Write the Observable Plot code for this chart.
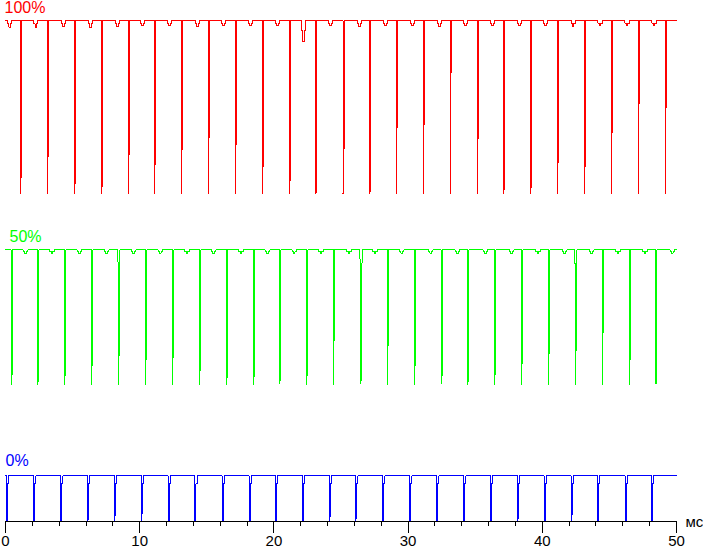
<!DOCTYPE html>
<html><head><meta charset="utf-8">
<script src="https://cdn.jsdelivr.net/npm/d3@7"></script>
<script src="https://cdn.jsdelivr.net/npm/@observablehq/plot@0.6"></script>
<style>html,body{margin:0;padding:0;background:#fff}#chart{width:703px;height:549px}</style>
</head><body><div id="chart"></div>
<script>
// Series (brightness levels) — labels, colours, top/bottom level in chart units
const seriesNames = ["100%", "50%", "0%"];
const seriesColors = ["#ff0000", "#00ff00", "#0000ff"];
const seriesHigh = [100, 54.2, 9.1];
const seriesLow = [65.4, 27.4, 0];

// 100% trace: dip times (ms), depth of the wide part (fraction of swing)
const redDipTimes = [1.14, 3.13, 5.14, 7.13, 9.14, 11.12, 13.13, 15.14, 17.15, 19.16, 21.15, 23.13, 25.15, 27.16, 29.14, 31.15, 33.13, 35.15, 37.13, 39.11, 41.12, 43.14, 45.15, 47.16, 49.17];
const redDipDepths = [0.58, 0.58, 0.89, 0.95, 0.74, 0.42, 0.17, 0.05, 0.23, 0.59, 0.89, 0.95, 0.74, 0.41, 0.17, 0.17, 0.23, 0.60, 0.89, 0.95, 0.74, 0.73, 0.41, 0.17, 0.24];
const redRipples = [[0.15, 0.04], [2.09, 0.04], [4.17, 0.035], [6.18, 0.04], [8.19, 0.035], [10.05, 0.03], [12.06, 0.03], [14.15, 0.035], [16.09, 0.03], [18.09, 0.03], [20.10, 0.03], [22.04, 0.12], [24.05, 0.03], [26.21, 0.035], [28.15, 0.03], [30.16, 0.03], [32.17, 0.035], [34.11, 0.03], [36.12, 0.03], [38.13, 0.03], [40.06, 0.03], [42.14, 0.035], [44.15, 0.03], [46.16, 0.03], [48.17, 0.03]];
const redShoulders = [];

// 50% trace
const greenDipTimes = [0.42, 2.41, 4.42, 6.43, 8.44, 10.45, 12.46, 14.47, 16.46, 18.47, 20.45, 22.46, 24.45, 26.49, 28.47, 30.48, 32.46, 34.45, 36.46, 38.47, 40.48, 42.49, 44.48, 46.49, 48.47];
const greenDipDepths = [0.92, 0.92, 0.68, 0.38, 0.18, 0.35, 0.35, 0.70, 0.93, 0.92, 0.68, 0.38, 0.18, 0.10, 0.36, 0.71, 0.93, 0.92, 0.67, 0.38, 0.17, 0.18, 0.36, 0.71, 0.93];
const greenRipples = [[1.32, 0.025], [3.30, 0.025], [5.34, 0.025], [7.37, 0.025], [9.38, 0.025], [11.37, 0.025], [13.35, 0.025], [15.34, 0.025], [17.37, 0.025], [19.36, 0.025], [21.35, 0.025], [23.33, 0.025], [25.44, 0.025], [27.38, 0.025], [29.36, 0.025], [31.52, 0.025], [33.51, 0.025], [35.59, 0.025], [37.55, 0.025], [39.52, 0.025], [41.50, 0.025], [43.51, 0.025], [45.49, 0.025], [47.48, 0.025], [49.52, 0.025]];
const greenShoulders = [[8.44, 0.09], [26.49, 0.07], [42.49, 0.10]];

// 0% trace
const blueDipTimes = [0.07, 2.11, 4.12, 6.13, 8.12, 10.13, 12.11, 14.12, 16.14, 18.15, 20.13, 22.14, 24.15, 26.11, 28.12, 30.13, 32.14, 34.15, 36.14, 38.15, 40.13, 42.14, 44.13, 46.17, 48.15];
const blueDipDepths = [1, 1, 0.95, 0.87, 0.78, 0.72, 1, 1, 1, 1, 1, 0.95, 0.78, 0.55, 1, 1, 1, 0.95, 1, 0.9, 1, 0.85, 1, 1, 1];
const blueRecovery = 0.17;

// Axis ticks (ms)
const minorTicks = [0, 2, 4, 6, 8, 10, 12, 14, 16, 18, 20, 22, 24, 26, 28, 30, 32, 34, 36, 38, 40, 42, 44, 46, 48, 50];
const majorTicks = [0, 10, 20, 30, 40, 50];
const xUnit = "мс";

const STEP = 0.075, RW = 0.33;
function buildTrace(k, times, depths, ripples, shoulders, recovery) {
  const hi = seriesHigh[k], lo = seriesLow[k], amp = hi - lo;
  const ev = [];
  times.forEach((t, i) => {
    const pts = [];
    const sh = shoulders.find(s => s[0] === t);
    if (sh) {
      pts.push([t - STEP, hi], [t - STEP, hi - sh[1] * amp], [t, hi - sh[1] * amp]);
    } else pts.push([t, hi]);
    pts.push([t, lo]);
    pts.push([t + STEP, hi - depths[i] * amp]);
    if (recovery) {
      pts.push([t + STEP, hi - recovery * amp], [t + 2 * STEP, hi - recovery * amp], [t + 2 * STEP, hi]);
    } else pts.push([t + STEP, hi]);
    ev.push({t, pts});
  });
  ripples.forEach(([r, d]) => {
    const a = hi - d * amp / 2, b = hi - d * amp, w = RW / 3;
    ev.push({t: r, pts: [[r, hi], [r, a], [r + w, a], [r + w, b], [r + 2 * w, b], [r + 2 * w, a], [r + RW, a], [r + RW, hi]]});
  });
  ev.sort((a, b) => a.t - b.t);
  return [{t: 0, v: hi}, ...ev.flatMap(e => e.pts.map(([t, v]) => ({t, v}))), {t: 50, v: hi}];
}

const traces = [
  buildTrace(0, redDipTimes, redDipDepths, redRipples, redShoulders, 0),
  buildTrace(1, greenDipTimes, greenDipDepths, greenRipples, greenShoulders, 0),
  buildTrace(2, blueDipTimes, blueDipDepths, [], [], blueRecovery)
];
const labelOffsets = [[-1, -13], [4, -13], [0, -15]];

const marks = [];
traces.forEach((tr, k) => {
  marks.push(Plot.line(tr, {x: "t", y: "v", stroke: seriesColors[k], strokeWidth: 1, shapeRendering: "crispEdges"}));
  marks.push(Plot.text([k], {y: i => seriesHigh[i], text: i => seriesNames[i], frameAnchor: "left", textAnchor: "start", lineAnchor: "middle",
    dx: labelOffsets[k][0], dy: labelOffsets[k][1], fill: seriesColors[k], fontSize: 16}));
});
marks.push(Plot.ruleY([0], {stroke: "#000", strokeWidth: 1, shapeRendering: "crispEdges"}));
marks.push(Plot.axisX(minorTicks, {tickSize: 5, tickFormat: () => "", label: null, stroke: "#000", shapeRendering: "crispEdges"}));
marks.push(Plot.axisX(majorTicks, {tickSize: 12, tickPadding: 2, fontSize: 15, label: null, stroke: "#000", fill: "#000", shapeRendering: "crispEdges"}));
marks.push(Plot.text([xUnit], {text: d => d, frameAnchor: "bottom-right", textAnchor: "start", lineAnchor: "middle", dx: 9, dy: 1, fontSize: 15, fill: "#000"}));

const chart = Plot.plot({
  width: 703, height: 549,
  marginTop: 20, marginBottom: 28, marginLeft: 5, marginRight: 27,
  x: {domain: [0, 50], label: null},
  y: {domain: [0, 100], axis: null},
  style: {fontFamily: "'Liberation Sans', Arial, sans-serif", fontSize: "16px", background: "#fff", overflow: "visible"},
  marks
});
document.getElementById("chart").appendChild(chart);
</script>
</body></html>
